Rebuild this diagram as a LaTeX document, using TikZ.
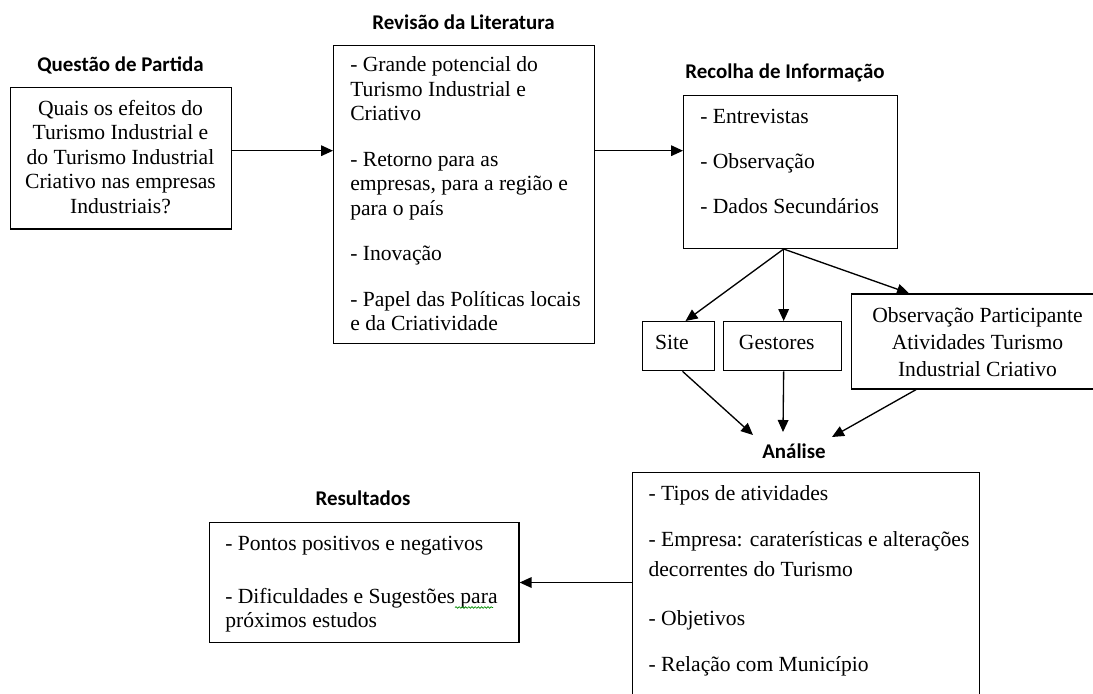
\documentclass[tikz,border=0pt]{standalone}
\usepackage{fontspec}
\setmainfont{Liberation Serif}
\newfontfamily\headfont{Carlito}
\usetikzlibrary{arrows.meta,decorations.pathmorphing}
\newcommand\lft[1]{\begin{tabular}[t]{@{}l@{}}#1\end{tabular}}
\newcommand\ctr[1]{\begin{tabular}[t]{@{}c@{}}#1\end{tabular}}
\begin{document}
\begin{tikzpicture}[x=0.75pt,y=-0.75pt,
  box/.style={draw=black, line width=1pt, inner sep=0pt, anchor=north west},
  head/.style={font=\headfont\bfseries\fontsize{15.7}{18}\selectfont, inner sep=0pt, anchor=base},
  body/.style={font=\fontsize{16.2}{18.4}\selectfont, inner sep=0pt, anchor=base west},
  bodyc/.style={font=\fontsize{16.2}{18.4}\selectfont, inner sep=0pt, anchor=base},
  arr/.style={line width=1pt, -{Triangle[length=9pt,width=8pt]}}
]
\clip (0,0) rectangle (1093,693);
\fill[white] (0,0) rectangle (1093,693);

% boxes
\node[box, minimum width=221.5*0.75pt, minimum height=141.6*0.75pt] (q) at (9.5,86.7) {};
\node[box, minimum width=261*0.75pt, minimum height=298*0.75pt] (rev) at (333,45) {};
\node[box, minimum width=214*0.75pt, minimum height=152.7*0.75pt] (rec) at (683,95) {};
\node[box, minimum width=72.3*0.75pt, minimum height=49*0.75pt] (site) at (641.7,321) {};
\node[box, minimum width=118.3*0.75pt, minimum height=49*0.75pt] (gest) at (722.7,321) {};
\node[box, minimum width=260*0.75pt, minimum height=95*0.75pt] (obs) at (851,293.3) {};
\node[box, minimum width=347.3*0.75pt, minimum height=260*0.75pt] (anal) at (631.7,472) {};
\node[box, minimum width=309.3*0.75pt, minimum height=120.3*0.75pt] (res) at (209,521.7) {};

% titles
\node[head] (tq) at (120.5,71) {Questão de Partida};
\node[head] (tr) at (463.5,29) {Revisão da Literatura};
\node[head] (tc) at (785,78) {Recolha de Informação};
\node[head] (ta) at (794,458) {Análise};
\node[head] (tres) at (363,505) {Resultados};

% texts
\node[bodyc] (xq) at (120.5,115) {\ctr{Quais os efeitos do\\ Turismo Industrial e\\ do Turismo Industrial\\ Criativo nas empresas\\ Industriais?}};
\node[body] (xrev) at (350,71.7) {\lft{- Grande potencial do\\ Turismo Industrial e\\ Criativo\\[15.75pt]
- Retorno para as\\ empresas, para a região e\\ para o país\\[15.75pt]
- Inovação\\[15.75pt]
- Papel das Políticas locais\\ e da Criatividade}};
\node[body] (xrec) at (700,123.3) {\lft{- Entrevistas\\[15.4pt] - Observação\\[15.4pt] - Dados Secundários}};
\node[bodyc] (xsite) at (672,349.3) {Site};
\node[bodyc] (xgest) at (776.7,349.3) {Gestores};
\node[bodyc] (xobs) at (977.5,322) {\ctr{Observação Participante\\[1.9pt] Atividades Turismo\\[1.9pt] Industrial Criativo}};
\node[body] (xanal) at (648.3,500) {\lft{- Tipos de atividades\\[16.65pt]
- Empresa: caraterísticas e alterações\\[4.1pt] decorrentes do Turismo\\[17.9pt]
- Objetivos\\[16.65pt]
- Relação com Município}};
\node[body] (xres) at (225,550) {\lft{- Pontos positivos e negativos\\[21.4pt]
- Dificuldades e Sugestões para\\ próximos estudos}};
\draw[green!55!black, line width=0.5pt, decorate, decoration={snake, amplitude=0.6pt, segment length=2.4pt}] (455,607.5) -- (493,607.5);

% connectors
\coordinate (a1) at ([yshift=5.6pt]q.east);
\draw[arr] (a1) -- (a1 -| rev.west);
\draw[arr] (rev.east |- a1) -- (rec.west |- a1);
\coordinate (fork) at ([xshift=-5.25pt]rec.south);
\draw[arr] (fork) -- ([xshift=5.25pt]site.north);
\draw[arr] (fork) -- (fork |- gest.north);
\draw[arr] (fork) -- ([xshift=43.5pt]obs.north west);
\coordinate (in1) at (753,435);
\coordinate (in2) at (783,432);
\coordinate (in3) at (832,437);
\draw[arr] ([xshift=3pt]site.south) -- (in1);
\draw[arr] (fork |- gest.south) -- (in2);
\draw[arr] ([xshift=48.75pt]obs.south west) -- (in3);
\draw[arr] (anal.west |- res.east) -- (res.east);
\end{tikzpicture}
\end{document}
